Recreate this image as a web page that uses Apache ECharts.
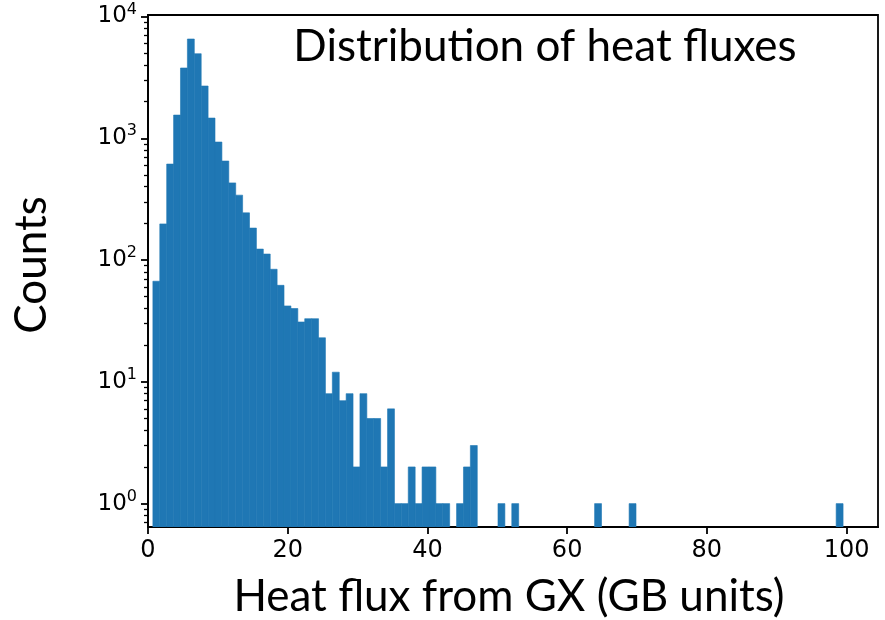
<!DOCTYPE html>
<html><head><meta charset="utf-8">
<script src="https://cdn.jsdelivr.net/npm/echarts@6/dist/echarts.min.js"></script>
<style>html,body{margin:0;padding:0;background:#fff}#c{width:885px;height:620px}</style>
</head><body><div id="c"></div>
<script>
// Histogram: 100 equal bins between binLow and binHigh
const binLow = 0.7;
const binHigh = 99.5;
const counts = [
  67, 198, 614, 1550, 3775, 6530, 4945, 2685, 1465, 931,
  650, 430, 341, 244, 183, 123, 112, 84, 62, 42,
  40, 31, 33, 33, 23, 8, 12, 7, 8, 2,
  8, 5, 5, 2, 6, 1, 1, 2, 1, 2,
  2, 1, 1, 0, 1, 2, 3, 0, 0, 0,
  1, 0, 1, 0, 0, 0, 0, 0, 0, 0,
  0, 0, 0, 0, 1, 0, 0, 0, 0, 1,
  0, 0, 0, 0, 0, 0, 0, 0, 0, 0,
  0, 0, 0, 0, 0, 0, 0, 0, 0, 0,
  0, 0, 0, 0, 0, 0, 0, 0, 0, 1
];
const xTicks = [0, 20, 40, 60, 80, 100];
const yMajorTicks = [1, 10, 100, 1000, 10000];
const yMinorTicks = [0.7, 0.8, 0.9, 2, 3, 4, 5, 6, 7, 8, 9, 20, 30, 40, 50, 60, 70, 80, 90,
  200, 300, 400, 500, 600, 700, 800, 900, 2000, 3000, 4000, 5000, 6000, 7000, 8000, 9000];
const titleText = 'Distribution of heat fluxes';
const xLabel = 'Heat flux from GX (GB units)';
const yLabel = 'Counts';

const xMin = 0, xMax = 104.5;
const yMin = Math.pow(10, -0.192), yMax = Math.pow(10, 4.012);

const binW = (binHigh - binLow) / counts.length;
const histData = [];
counts.forEach((c, i) => {
  if (c > 0) histData.push([binLow + i * binW, binLow + (i + 1) * binW, c]);
});

const chart = echarts.init(document.getElementById('c'), null, {renderer: 'canvas'});
const tickFont = 'DejaVu Sans';
chart.setOption({
  animation: false,
  backgroundColor: '#fff',
  grid: {left: 148, top: 15, width: 730, height: 512, show: true, borderColor: '#000', borderWidth: 1.8, backgroundColor: 'transparent'},
  xAxis: {
    type: 'value', min: xMin, max: xMax,
    splitLine: {show: false},
    axisLine: {show: true, onZero: false, lineStyle: {color: '#000', width: 1.8}},
    axisTick: {show: true, length: 7, lineStyle: {color: '#000', width: 1.8}, customValues: xTicks},
    axisLabel: {show: true, customValues: xTicks, color: '#000', fontFamily: tickFont, fontSize: 24, margin: 12}
  },
  yAxis: [{
    type: 'log', logBase: 10, min: yMin, max: yMax,
    splitLine: {show: false},
    axisLine: {show: true, lineStyle: {color: '#000', width: 1.8}},
    axisTick: {show: true, length: 7, lineStyle: {color: '#000', width: 1.8}, customValues: yMajorTicks},
    axisLabel: {
      show: true, customValues: yMajorTicks, margin: 11,
      formatter: v => '{b|10}{s|' + Math.round(Math.log10(v)) + '}',
      rich: {
        b: {fontFamily: tickFont, fontSize: 23, lineHeight: 30, color: '#000'},
        s: {fontFamily: tickFont, fontSize: 16, lineHeight: 10, verticalAlign: 'top', color: '#000'}
      }
    }
  }, {
    type: 'log', logBase: 10, min: yMin, max: yMax, position: 'left',
    splitLine: {show: false},
    axisLine: {show: false},
    axisTick: {show: true, length: 4, lineStyle: {color: '#000', width: 1.3}, customValues: yMinorTicks},
    axisLabel: {show: false}
  }],
  series: [{
    type: 'custom',
    xAxisIndex: 0, yAxisIndex: 0,
    encode: {x: [0, 1], y: 2},
    data: histData,
    clip: true,
    renderItem: (params, api) => {
      const p0 = api.coord([api.value(0), api.value(2)]);
      const p1 = api.coord([api.value(1), yMin]);
      return {type: 'rect', shape: {x: p0[0], y: p0[1], width: p1[0] - p0[0], height: p1[1] - p0[1]},
        style: {fill: '#1f77b4', stroke: '#1f77b4', lineWidth: 0.6}};
    }
  }],
  graphic: [
    {type: 'text', x: 545, y: 47, style: {text: titleText, font: '44px Lato', fill: '#000', align: 'center', verticalAlign: 'middle'}},
    {type: 'text', x: 509, y: 597, style: {text: xLabel, font: '44px Lato', fill: '#000', align: 'center', verticalAlign: 'middle'}},
    {type: 'text', x: 32, y: 265, rotation: Math.PI / 2, style: {text: yLabel, font: '44px Lato', fill: '#000', align: 'center', verticalAlign: 'middle'}}
  ]
});
</script>
</body></html>
